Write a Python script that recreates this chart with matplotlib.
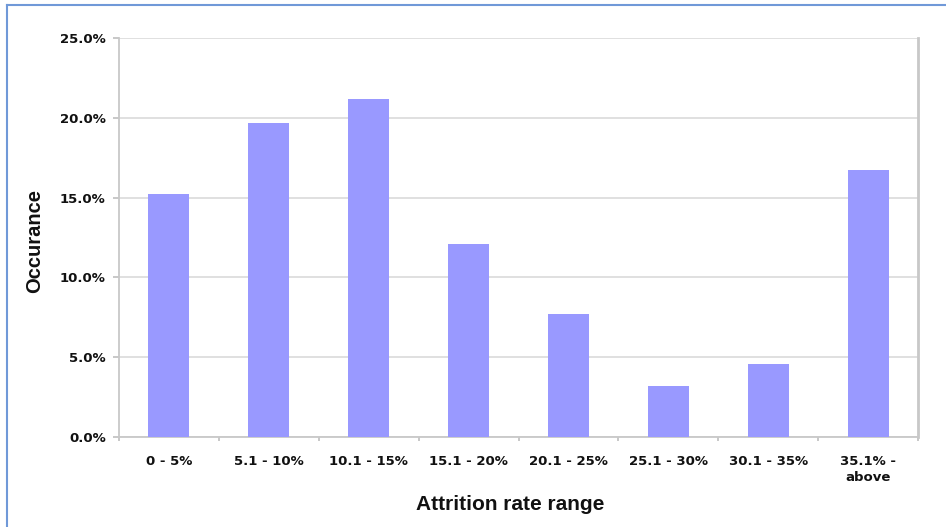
import numpy as np
import matplotlib.pyplot as plt
from matplotlib.lines import Line2D
from matplotlib.ticker import FuncFormatter, MultipleLocator

# данные графика
ranges = ['0 - 5%', '5.1 - 10%', '10.1 - 15%', '15.1 - 20%',
          '20.1 - 25%', '25.1 - 30%', '30.1 - 35%', '35.1% -\nabove']
occurance = [15.2, 19.7, 21.2, 12.1, 7.7, 3.2, 4.6, 16.7]

fig = plt.figure(figsize=(9.46, 5.27), dpi=100)
ax = fig.add_axes([119 / 946, 1 - 437 / 527, 799 / 946, 399 / 527])

x = np.arange(len(ranges))
ax.bar(x, occurance, width=0.41, color='#9999FF', zorder=3)

ax.set_xlim(-0.5, len(ranges) - 0.5)
ax.set_ylim(0, 25)
ax.yaxis.set_major_locator(MultipleLocator(5))
ax.yaxis.set_major_formatter(FuncFormatter(lambda v, p: '%.1f%%' % v))
ax.grid(axis='y', color='#DDDDDD', lw=1.3, zorder=0)

ax.set_xticks(x)
ax.set_xticklabels(ranges, fontsize=9.5, fontweight='bold', family='DejaVu Sans',
                   color='#111111', linespacing=1.25)
ax.set_xticks(np.arange(len(ranges) + 1) - 0.5, minor=True)
ax.tick_params(axis='x', which='major', length=0, pad=13)
ax.tick_params(axis='x', which='minor', length=3, color='#BFBFBF', width=1.2)
ax.tick_params(axis='y', length=4, color='#BFBFBF', width=1.2, pad=5.5)
for lbl in ax.get_yticklabels():
    lbl.set_fontsize(9.5)
    lbl.set_fontweight('bold')
    lbl.set_family('DejaVu Sans')
    lbl.set_color('#111111')

for s in ['left', 'bottom']:
    ax.spines[s].set_color('#C8C8C8')
    ax.spines[s].set_linewidth(1.3)
ax.spines['right'].set_color('#C8C8C8')
ax.spines['right'].set_linewidth(2)
ax.spines['top'].set_visible(False)

ax.set_xlabel('Attrition rate range', fontsize=15, fontweight='bold',
              family='Liberation Sans', color='#111111')
ax.xaxis.set_label_coords((510 - 119) / 799, (437 - 505) / 399)
ax.xaxis.label.set_va('center')
ax.set_ylabel('Occurance', fontsize=14.5, fontweight='bold',
              family='Liberation Sans', color='#111111')
ax.yaxis.set_label_coords((35 - 119) / 799, (437 - 241) / 399)
ax.yaxis.label.set_va('center')

# синяя рамка вокруг рисунка
fig.add_artist(Line2D([6.5 / 946, 1], [1 - 5 / 527, 1 - 5 / 527],
                      color='#7099D8', lw=1.5, transform=fig.transFigure))
fig.add_artist(Line2D([6.5 / 946, 6.5 / 946], [0, 1 - 5 / 527],
                      color='#7099D8', lw=1.5, transform=fig.transFigure))

plt.savefig('out.png', dpi=100)
